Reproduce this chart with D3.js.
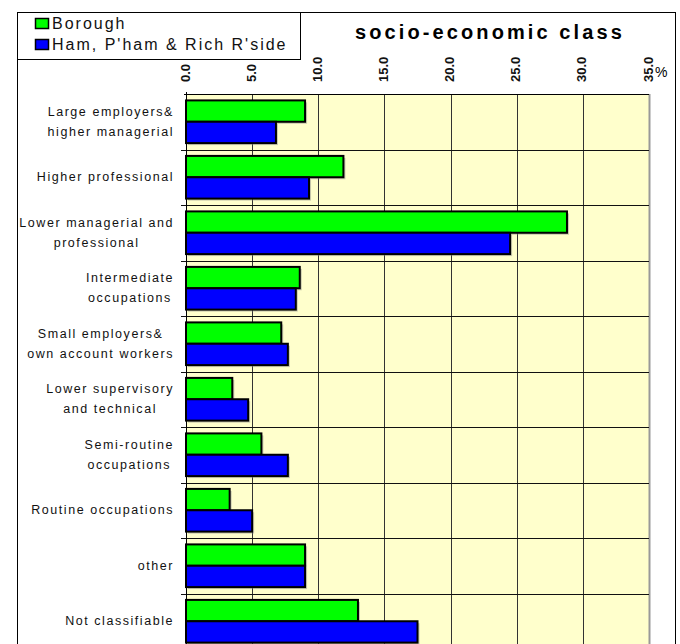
<!DOCTYPE html>
<html>
<head>
<meta charset="utf-8">
<script src="https://cdn.jsdelivr.net/npm/d3@7"></script>
<style>
  body { margin: 0; background: #fff; }
  svg { display: block; font-family: "Liberation Sans", Arial, sans-serif; }
</style>
</head>
<body>
<svg id="chart" width="680" height="644"></svg>
<script>
// categories, top to bottom (line breaks as in the original labels)
const categories = [
    ["Large employers&", "higher managerial"],
    ["Higher professional"],
    ["Lower managerial and", "professional"],
    ["Intermediate", "occupations"],
    ["Small employers&", "own account workers"],
    ["Lower supervisory", "and technical"],
    ["Semi-routine", "occupations"],
    ["Routine occupations"],
    ["other"],
    ["Not classifiable"]
];
const seriesNames = ["Borough", "Ham, P'ham & Rich R'side"];
const borough  = [9.0, 11.9, 28.8, 8.6, 7.2, 3.5, 5.7, 3.3, 9.0, 13.0];
const hamPham  = [6.8, 9.3, 24.5, 8.3, 7.7, 4.7, 7.7, 5.0, 9.0, 17.5];
const xTicks = [0, 5, 10, 15, 20, 25, 30, 35];
const colors = ["#00ff00", "#0000ff"];

const svg = d3.select("#chart");

// layout
const plot = { left: 186, right: 649, top: 94, bottom: 649 };

// outer frame
svg.append("rect")
    .attr("x", 17.5).attr("y", 12.5)
    .attr("width", 658).attr("height", 660)
    .attr("fill", "#fff").attr("stroke", "#000").attr("stroke-width", 1);

// scales
const x = d3.scaleLinear().domain([0, 35]).range([plot.left, plot.right]);
const catKeys = categories.map((c, i) => i);
const y = d3.scaleBand().domain(catKeys).range([plot.top, plot.bottom]);
const y1 = d3.scaleBand().domain(seriesNames)
    .range([0, y.bandwidth()]).paddingOuter(0.3);

// plot background
svg.append("rect")
    .attr("x", plot.left).attr("y", plot.top)
    .attr("width", plot.right - plot.left).attr("height", plot.bottom - plot.top)
    .attr("fill", "#ffffcc");

// right-edge shadow of plot area
svg.append("line")
    .attr("x1", plot.right + 0.5).attr("x2", plot.right + 0.5)
    .attr("y1", plot.top).attr("y2", plot.bottom)
    .attr("stroke", "#999").attr("stroke-width", 2);

// vertical grid
svg.append("g").selectAll("line")
    .data(xTicks.slice(1, -1))
    .join("line")
    .attr("x1", d => Math.round(x(d)) + 0.5).attr("x2", d => Math.round(x(d)) + 0.5)
    .attr("y1", plot.top).attr("y2", plot.bottom)
    .attr("stroke", "#333").attr("stroke-width", 1);

// horizontal grid at category boundaries (with small ticks to the left)
svg.append("g").selectAll("line")
    .data(catKeys.slice(1))
    .join("line")
    .attr("x1", plot.left - 5).attr("x2", plot.right)
    .attr("y1", d => Math.round(y(d)) + 0.5).attr("y2", d => Math.round(y(d)) + 0.5)
    .attr("stroke", "#111").attr("stroke-width", 1);

// bars
const series = [borough, hamPham];
series.forEach((vals, si) => {
    const g = svg.append("g");
    // soft shadow
    g.selectAll("rect.shadow")
        .data(vals)
        .join("rect")
        .attr("class", "shadow")
        .attr("x", x(0) + 2)
        .attr("y", (d, i) => y(i) + y1(seriesNames[si]) + 2)
        .attr("width", d => x(d) - x(0))
        .attr("height", y1.bandwidth())
        .attr("fill", "#888").attr("opacity", 0.45);
    g.selectAll("rect.bar")
        .data(vals)
        .join("rect")
        .attr("class", "bar")
        .attr("x", x(0))
        .attr("y", (d, i) => y(i) + y1(seriesNames[si]))
        .attr("width", d => x(d) - x(0))
        .attr("height", y1.bandwidth())
        .attr("fill", colors[si])
        .attr("stroke", "#000").attr("stroke-width", 2);
});

// axes lines (top and left)
svg.append("line")
    .attr("x1", plot.left - 2).attr("x2", plot.right)
    .attr("y1", plot.top + 0.5).attr("y2", plot.top + 0.5)
    .attr("stroke", "#000");
svg.append("line")
    .attr("x1", plot.left + 0.5).attr("x2", plot.left + 0.5)
    .attr("y1", plot.top - 2).attr("y2", plot.bottom)
    .attr("stroke", "#000");

// x tick labels, rotated, reading upward
svg.append("g").selectAll("text")
    .data(xTicks)
    .join("text")
    .attr("transform", d => `translate(${x(d) - 1},82) rotate(-90)`)
    .attr("dy", "0.35em")
    .attr("text-anchor", "start")
    .attr("font-size", 13).attr("font-weight", "bold")
    .attr("fill", "#111")
    .text(d => d3.format(".1f")(d));
svg.append("text")
    .attr("x", 655).attr("y", 77)
    .attr("font-size", 14)
    .text("%");

// category labels: each block right-aligned, lines centred within block
const labelRight = 174;
categories.forEach((lines, i) => {
    const cy = y(i) + y.bandwidth() / 2;
    const g = svg.append("g");
    const texts = lines.map((ln, li) => g.append("text")
        .attr("font-size", 12.5)
        .attr("letter-spacing", 1.55)
        .attr("fill", "#111")
        .attr("y", cy + 4 + (li - (lines.length - 1) / 2) * 20)
        .attr("text-anchor", "middle")
        .text(ln));
    const maxW = d3.max(texts, t => t.node().getComputedTextLength());
    texts.forEach(t => t.attr("x", labelRight - maxW / 2));
});

// title
svg.append("text")
    .attr("x", 490).attr("y", 39)
    .attr("text-anchor", "middle")
    .attr("font-size", 20).attr("font-weight", "bold")
    .attr("letter-spacing", 3.1)
    .text("socio-economic class");

// legend
const lg = svg.append("g");
lg.append("rect")
    .attr("x", 17.5).attr("y", 12.5)
    .attr("width", 283).attr("height", 47)
    .attr("fill", "#fff").attr("stroke", "#000");
seriesNames.forEach((name, i) => {
    lg.append("rect")
        .attr("x", 35.5).attr("y", 18.5 + i * 21)
        .attr("width", 13).attr("height", 10)
        .attr("fill", colors[i]).attr("stroke", "#000").attr("stroke-width", 1.5);
    lg.append("text")
        .attr("x", 52).attr("y", 28.5 + i * 21)
        .attr("font-size", 16)
        .attr("letter-spacing", 2.0)
        .attr("fill", "#111")
        .text(name);
});
</script>
</body>
</html>
